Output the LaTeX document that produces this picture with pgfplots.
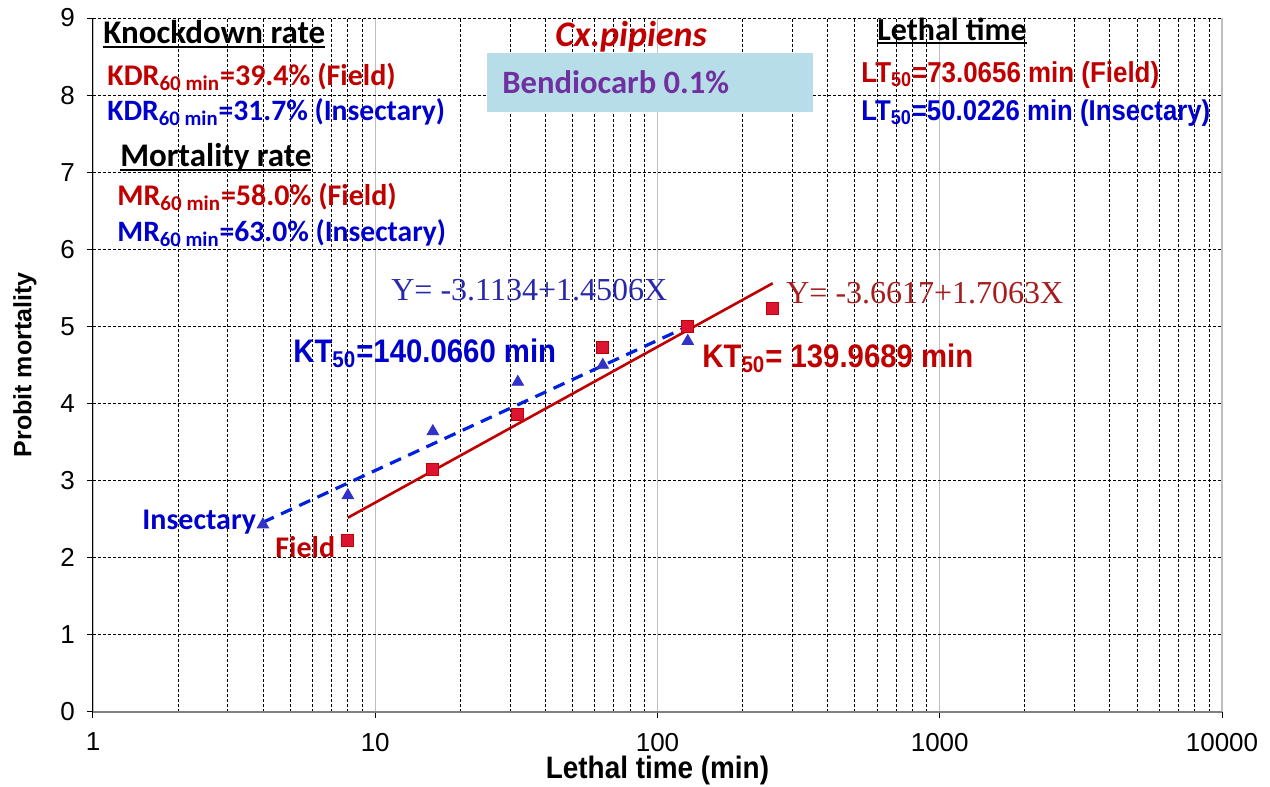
\documentclass[border=0pt]{standalone}
\usepackage{fontspec}
\setmainfont{Carlito}
\newfontfamily\arialn[FakeStretch=0.9]{Liberation Sans}
\newfontfamily\arialf{Liberation Sans}
\newfontfamily\timesf{Liberation Serif}
\usepackage{pgfplots}
\pgfplotsset{compat=1.18}

\definecolor{dred}{RGB}{192,0,0}
\definecolor{dblue}{RGB}{0,0,204}
\definecolor{eqblue}{RGB}{40,40,170}
\definecolor{eqred}{RGB}{165,30,30}
\definecolor{purp}{RGB}{112,48,160}
\definecolor{boxblue}{RGB}{183,222,232}
\definecolor{sqred}{RGB}{220,20,50}
\definecolor{tri}{RGB}{50,50,200}
\definecolor{lblue}{RGB}{0,32,224}

% place a label by reference pixel (left edge, vertical centre)
\newcommand\lab[4][]{\node[anchor=west,inner sep=0pt,#1] at (rel axis cs:{(#2-93)/1129},{(712-#3)/694}) {#4};}
% thick underline a little below the baseline
\newcommand\ul[1]{\setbox0\hbox{#1}\rlap{\rule[-2.2pt]{\wd0}{1.1pt}}\box0}

\begin{document}
\begin{tikzpicture}
\begin{axis}[
  xmode=log,
  scale only axis,
  width=564.5pt, height=347pt,
  xmin=1, xmax=10000,
  ymin=0, ymax=9,
  ytick={0,1,...,9},
  log ticks with fixed point,
  /pgf/number format/1000 sep={},
  /pgf/number format/assume math mode=true,
  tick label style={font=\arialf\fontsize{13}{15}\selectfont},
  xticklabel style={yshift=-4pt},
  yticklabel style={xshift=-2.5pt},
  axis x line*=bottom,
  axis y line*=left,
  x axis line style={gray, line width=1.2pt, -},
  y axis line style={black, line width=0.5pt, -},
  tick align=outside,
  major tick length=3pt,
  minor tick length=0pt,
  tick style={black, line width=0.5pt},
  xmajorgrids=true, xminorgrids=true, ymajorgrids=true,
  major x grid style={gray!50, solid, line width=0.7pt},
  minor x grid style={black, line width=0.4pt, dash pattern=on 1.5pt off 1pt},
  major y grid style={black, line width=0.4pt, dash pattern=on 1.5pt off 1pt},
  xlabel={Lethal time (min)},
  ylabel={Probit mortality},
  every axis x label/.style={at={(rel axis cs:0.5,-0.0836)}, anchor=center,
    font=\arialn\bfseries\fontsize{15.5}{17}\selectfont},
  every axis y label/.style={at={(rel axis cs:-0.0602,0.5)}, anchor=center, rotate=90,
    font=\arialf\bfseries\fontsize{12.5}{14}\selectfont},
  clip=false,
]
% fitted probit lines
\addplot[dred, line width=1.3pt] coordinates {(8,2.52) (256,5.56)};
\addplot[lblue, line width=1.6pt, dash pattern=on 6pt off 4pt] coordinates {(4,2.46) (128,5.00)};
% observed points
\addplot[only marks, mark=square*, mark size=3pt, mark options={fill=sqred, draw=dred, line width=0.4pt}]
  coordinates {(8,2.23) (16,3.14) (32,3.86) (64,4.73) (128,5.00) (256,5.23)};
\addplot[only marks, mark=triangle*, mark size=3.3pt, mark options={fill=tri, draw=tri}]
  coordinates {(4,2.43) (8,2.81) (16,3.64) (32,4.28) (64,4.50) (128,4.81)};

% header box
\node[fill=boxblue, inner sep=0pt, minimum width=163pt, minimum height=29.5pt, anchor=north west]
  at (rel axis cs:{(487-93)/1129},{(712-53)/694}) {};
\lab{502}{82}{\color{purp}\bfseries\fontsize{16.3}{18}\selectfont Bendiocarb 0.1\%}
\lab{555}{37}{\color{dred}\bfseries\itshape\fontsize{18}{20}\selectfont Cx.pipiens}

% left block
\lab{103}{34}{\bfseries\fontsize{16.5}{18}\selectfont\ul{Knockdown rate}}
\lab{107}{77}{\color{dred}\bfseries\fontsize{15}{18}\selectfont KDR\textsubscript{60 min}=39.4\% (Field)}
\lab{107}{112}{\color{dblue}\bfseries\fontsize{14.8}{18}\selectfont KDR\textsubscript{60 min}=31.7\% (Insectary)}
\lab{120}{158}{\bfseries\fontsize{16.5}{18}\selectfont\ul{Mortality rate}}
\lab{117}{197}{\color{dred}\bfseries\fontsize{15}{18}\selectfont MR\textsubscript{60 min}=58.0\% (Field)}
\lab{117}{233}{\color{dblue}\bfseries\fontsize{14.8}{18}\selectfont MR\textsubscript{60 min}=63.0\% (Insectary)}

% right block
\lab{877}{31}{\bfseries\fontsize{16}{18}\selectfont\ul{Lethal time}}
\lab{861}{75}{\color{dred}\arialn\bfseries\fontsize{14.4}{17}\selectfont LT\textsubscript{50}=73.0656 min (Field)}
\lab{861}{113}{\color{dblue}\arialn\bfseries\fontsize{14.3}{17}\selectfont LT\textsubscript{50}=50.0226 min (Insectary)}

% regression equations and KT50
\lab{391}{290}{\color{eqblue}\timesf\fontsize{16}{18}\selectfont Y= -3.1134+1.4506X}
\lab{786}{293}{\color{eqred}\timesf\fontsize{16}{18}\selectfont Y= -3.6617+1.7063X}
\lab{293}{353}{\color{dblue}\arialn\bfseries\fontsize{16.3}{18}\selectfont KT\textsubscript{50}=140.0660 min}
\lab{702}{358}{\color{dred}\arialn\bfseries\fontsize{16.3}{18}\selectfont KT\textsubscript{50}= 139.9689 min}

% series labels
\lab{142}{522}{\color{dblue}\bfseries\fontsize{15}{18}\selectfont Insectary}
\lab{275}{547}{\color{dred}\bfseries\fontsize{15}{18}\selectfont Field}

\coordinate (bbsw) at (rel axis cs:-0.08237,-0.10807);
\coordinate (bbne) at (rel axis cs:1.04252,1.02594);
\end{axis}
\pgfresetboundingbox
\path (bbsw) rectangle (bbne);
\end{tikzpicture}
\end{document}
